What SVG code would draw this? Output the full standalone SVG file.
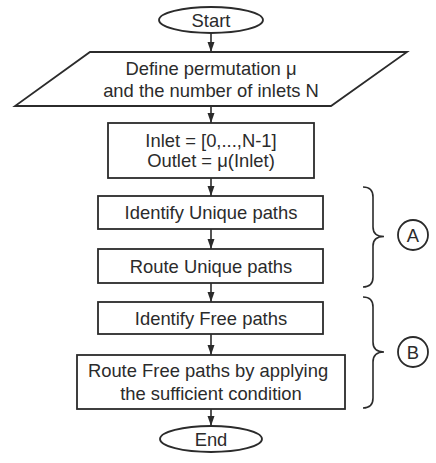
<svg xmlns="http://www.w3.org/2000/svg" width="436" height="463" viewBox="0 0 436 463">
<defs>
<marker id="ah" markerUnits="userSpaceOnUse" markerWidth="10" markerHeight="10" viewBox="0 0 10 10" refX="10" refY="5" orient="auto">
<path d="M0,1.5 L10,5 L0,8.5 Z" fill="#2b2b2b"/>
</marker>
<style>
.s{fill:#fff;stroke:#2b2b2b;stroke-width:1.8}
.t{font-family:"Liberation Sans",Arial,sans-serif;font-size:18.4px;fill:#2b2b2b;text-anchor:middle}
.c{stroke:#2b2b2b;stroke-width:1.6;fill:none}
.b{stroke:#2b2b2b;stroke-width:1.6;fill:none}
</style>
</defs>
<rect width="436" height="463" fill="#fff"/>
<g id="connectors">
<line class="c" x1="211" y1="33" x2="211" y2="52" marker-end="url(#ah)"/>
<line class="c" x1="211" y1="106" x2="211" y2="123" marker-end="url(#ah)"/>
<line class="c" x1="211" y1="178" x2="211" y2="196" marker-end="url(#ah)"/>
<line class="c" x1="211" y1="229" x2="211" y2="249" marker-end="url(#ah)"/>
<line class="c" x1="211" y1="283" x2="211" y2="302" marker-end="url(#ah)"/>
<line class="c" x1="211" y1="334" x2="211" y2="355" marker-end="url(#ah)"/>
<line class="c" x1="211" y1="409" x2="211" y2="426" marker-end="url(#ah)"/>
</g>
<g id="start">
<ellipse class="s" cx="211" cy="20" rx="52" ry="13"/>
<text class="t" x="211" y="26.5">Start</text>
</g>
<g id="define">
<polygon class="s" points="90,52 407,52 331,106 15,106"/>
<text class="t" x="211" y="75">Define permutation μ</text>
<text class="t" x="211" y="96.5">and the number of inlets N</text>
</g>
<g id="inlet">
<rect class="s" x="108" y="123" width="206" height="55"/>
<text class="t" x="211" y="147">Inlet = [0,...,N-1]</text>
<text class="t" x="211" y="167">Outlet = μ(Inlet)</text>
</g>
<g id="identify-unique">
<rect class="s" x="98" y="196" width="225" height="33"/>
<text class="t" x="211" y="219">Identify Unique paths</text>
</g>
<g id="route-unique">
<rect class="s" x="98" y="249" width="225" height="34"/>
<text class="t" x="211" y="272.5">Route Unique paths</text>
</g>
<g id="identify-free">
<rect class="s" x="98" y="302" width="225" height="32"/>
<text class="t" x="211" y="324.5">Identify Free paths</text>
</g>
<g id="route-free">
<rect class="s" x="77" y="355" width="268" height="54"/>
<text class="t" x="208" y="377">Route Free paths by applying</text>
<text class="t" x="211" y="400">the sufficient condition</text>
</g>
<g id="end">
<ellipse class="s" cx="211" cy="439" rx="51" ry="13"/>
<text class="t" x="211" y="445.5">End</text>
</g>
<g id="group-a">
<path class="b" d="M363,187 Q373,187 373,197 L373,227 Q373,236.5 384,236.5 Q373,236.5 373,246 L373,277 Q373,287 363,287"/>
<circle class="s" cx="413" cy="235" r="15"/>
<text class="t" x="413" y="241.5">A</text>
</g>
<g id="group-b">
<path class="b" d="M363,297 Q373,297 373,307 L373,342 Q373,352 384,352 Q373,352 373,362 L373,398 Q373,408 363,408"/>
<circle class="s" cx="413" cy="352" r="15"/>
<text class="t" x="413" y="358.5">B</text>
</g>
</svg>
